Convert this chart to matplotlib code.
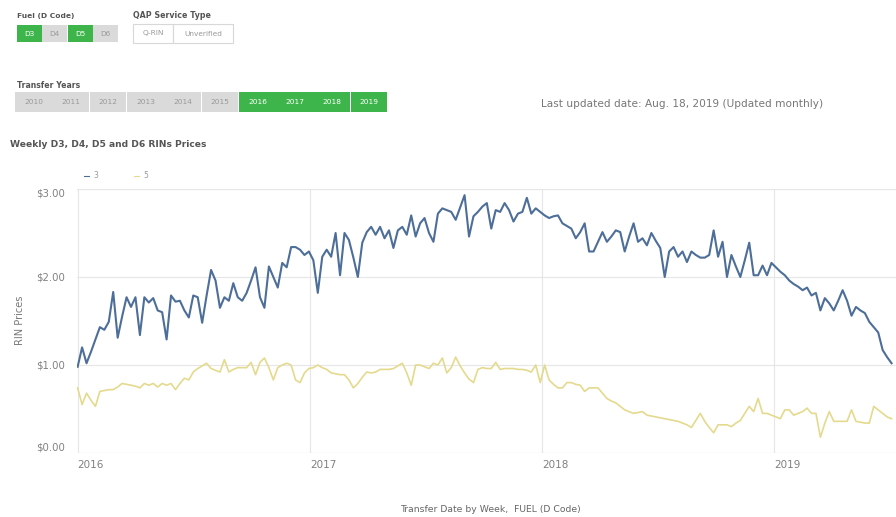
import matplotlib
matplotlib.use("Agg")
import matplotlib.pyplot as plt
import matplotlib.dates as mdates
from matplotlib.patches import Rectangle
import pandas as pd

W, H = 896, 517

# weekly RIN prices
start_date = "2016-01-01"
d3_prices = [
    0.98, 1.20, 1.02, 1.15, 1.29, 1.43, 1.40, 1.49, 1.83, 1.31,
    1.55, 1.77, 1.66, 1.77, 1.34, 1.77, 1.71, 1.76, 1.62, 1.60,
    1.29, 1.79, 1.72, 1.73, 1.62, 1.54, 1.79, 1.77, 1.48, 1.79,
    2.08, 1.96, 1.65, 1.77, 1.73, 1.93, 1.77, 1.73, 1.82, 1.96,
    2.11, 1.77, 1.65, 2.12, 2.00, 1.88, 2.16, 2.11, 2.34, 2.34,
    2.31, 2.25,
    2.29, 2.19, 1.82, 2.23, 2.31, 2.23, 2.50, 2.02, 2.50, 2.42,
    2.22, 2.00, 2.39, 2.51, 2.57, 2.48, 2.57, 2.44, 2.53, 2.33,
    2.53, 2.57, 2.48, 2.70, 2.46, 2.61, 2.67, 2.50, 2.40, 2.72,
    2.78, 2.76, 2.74, 2.65, 2.79, 2.93, 2.46, 2.69, 2.74, 2.80,
    2.84, 2.55, 2.76, 2.74, 2.84, 2.76, 2.63, 2.72, 2.74, 2.90, 2.72, 2.78,
    2.74, 2.70, 2.67, 2.69, 2.70, 2.61, 2.58, 2.55, 2.44, 2.51,
    2.61, 2.29, 2.29, 2.40, 2.51, 2.40, 2.46, 2.53, 2.51, 2.29,
    2.46, 2.61, 2.40, 2.44, 2.36, 2.50, 2.41, 2.33, 2.00, 2.29,
    2.34, 2.23, 2.29, 2.17, 2.29, 2.25, 2.22, 2.22, 2.25, 2.53,
    2.23, 2.40, 2.00, 2.25, 2.12, 2.00, 2.19, 2.39, 2.02, 2.02,
    2.13, 2.02, 2.16,
    2.11, 2.06, 2.02, 1.96, 1.92, 1.89, 1.85, 1.88, 1.79, 1.82,
    1.62, 1.76, 1.70, 1.62, 1.73, 1.85, 1.73, 1.56, 1.66, 1.62,
    1.59, 1.49, 1.43, 1.37, 1.17, 1.09, 1.02,
]
d5_prices = [
    0.74, 0.55, 0.68, 0.60, 0.53, 0.70, 0.71, 0.72, 0.72, 0.75,
    0.79, 0.78, 0.77, 0.76, 0.74, 0.79, 0.77, 0.79, 0.75, 0.79,
    0.77, 0.79, 0.72, 0.79, 0.85, 0.83, 0.92, 0.96, 0.99, 1.02,
    0.96, 0.94, 0.92, 1.06, 0.92, 0.95, 0.97, 0.97, 0.97, 1.03,
    0.89, 1.03, 1.08, 0.97, 0.83, 0.97, 1.00, 1.02, 1.00, 0.83,
    0.80, 0.91, 0.96, 0.97, 1.00, 0.97, 0.95, 0.91, 0.90, 0.89,
    0.89, 0.83, 0.74, 0.79, 0.86, 0.92, 0.91, 0.92, 0.95, 0.95,
    0.95, 0.96, 0.99, 1.02, 0.91, 0.77, 1.00, 1.00, 0.98, 0.96,
    1.02, 1.00, 1.08, 0.91, 0.97, 1.09, 0.99, 0.91, 0.84, 0.80,
    0.95, 0.97, 0.96, 0.96, 1.03, 0.95, 0.96, 0.96, 0.96, 0.95,
    0.95, 0.94, 0.92, 1.00, 0.80, 1.00, 0.83, 0.78, 0.74, 0.74,
    0.80, 0.80, 0.78, 0.77, 0.70, 0.74, 0.74, 0.74, 0.68, 0.62,
    0.59, 0.57, 0.53, 0.49, 0.47, 0.45, 0.46, 0.47, 0.43, 0.42,
    0.41, 0.40, 0.39, 0.38, 0.37, 0.36, 0.34, 0.32, 0.29, 0.37,
    0.45, 0.36, 0.29, 0.23, 0.32, 0.32, 0.32, 0.30, 0.34, 0.37,
    0.45, 0.53, 0.47, 0.62, 0.45, 0.45, 0.43, 0.41, 0.39, 0.49,
    0.49, 0.43, 0.45, 0.47, 0.51, 0.45, 0.45, 0.18, 0.34, 0.47,
    0.36, 0.36, 0.36, 0.36, 0.49, 0.36, 0.35, 0.34, 0.34, 0.53,
    0.49, 0.45, 0.41, 0.39,
]
weeks = pd.date_range(start_date, periods=len(d3_prices), freq="7D")

fuel_codes = ["D3", "D4", "D5", "D6"]
fuel_selected = ["D3", "D5"]
qap_types = ["Q-RIN", "Unverified"]
years = ["2010", "2011", "2012", "2013", "2014", "2015", "2016", "2017", "2018", "2019"]
years_selected = ["2016", "2017", "2018", "2019"]
y_ticks = [0, 1, 2, 3]
y_labels = ["$0.00", "$1.00", "$2.00", "$3.00"]
x_ticks = ["2016-01-01", "2017-01-01", "2018-01-01", "2019-01-01"]

GREEN = "#3db54a"
GREY_BTN = "#dadada"
BLUE = "#4d6e99"
YELLOW = "#e4da8e"

fig = plt.figure(figsize=(W / 100, H / 100), dpi=100)
fig.patch.set_facecolor("white")


def box(x, y, w, h, fc, ec="none"):
    fig.add_artist(Rectangle((x / W, 1 - (y + h) / H), w / W, h / H,
                             transform=fig.transFigure, facecolor=fc,
                             edgecolor=ec, linewidth=0.8))


def txt(x, y, s, **kw):
    fig.text(x / W, 1 - y / H, s, **kw)


# filter panels
txt(17, 16, "Fuel (D Code)", fontsize=5.4, fontweight="bold", color="#555555", va="center")
for i, code in enumerate(fuel_codes):
    x0 = 17 + i * 25.3
    on = code in fuel_selected
    box(x0, 25, 25, 17, GREEN if on else GREY_BTN)
    txt(x0 + 12.5, 33.5, code, fontsize=5.3, color="white" if on else "#999999",
        ha="center", va="center")

txt(133, 16, "QAP Service Type", fontsize=5.7, fontweight="bold", color="#555555", va="center")
box(133, 24, 40, 19, "white", "#d8d8d8")
box(173, 24, 60, 19, "white", "#d8d8d8")
txt(153, 33.5, qap_types[0], fontsize=5.3, color="#999999", ha="center", va="center")
txt(203, 33.5, qap_types[1], fontsize=5.3, color="#999999", ha="center", va="center")

txt(17, 85, "Transfer Years", fontsize=5.6, fontweight="bold", color="#555555", va="center")
bw = (388 - 15) / len(years)
for i, yr in enumerate(years):
    x0 = 15 + i * bw
    on = yr in years_selected
    box(x0, 92, bw - 0.6, 20, GREEN if on else GREY_BTN)
    txt(x0 + bw / 2, 102, yr, fontsize=5.3, color="white" if on else "#999999",
        ha="center", va="center")

txt(541, 104, "Last updated date: Aug. 18, 2019 (Updated monthly)", fontsize=7.6,
    color="#777777", va="center")

txt(10, 145, "Weekly D3, D4, D5 and D6 RINs Prices", fontsize=6.6, fontweight="bold",
    color="#555555", va="center")

# legend
fig.add_artist(plt.Line2D([84 / W, 89 / W], [1 - 176 / H] * 2, color=BLUE, lw=0.8,
                          transform=fig.transFigure))
txt(93, 176, "3", fontsize=5.5, color="#999999", va="center")
fig.add_artist(plt.Line2D([134 / W, 139 / W], [1 - 176 / H] * 2, color=YELLOW, lw=0.8,
                          transform=fig.transFigure))
txt(143, 176, "5", fontsize=5.5, color="#999999", va="center")

# chart
ax = fig.add_axes([77 / W, 1 - 453 / H, (W - 77) / W, (453 - 189) / H])
ax.plot(weeks, d5_prices, color=YELLOW, lw=1.2)
ax.plot(weeks, d3_prices, color=BLUE, lw=1.5)

ax.set_ylim(0, 3)
ax.set_xlim(pd.Timestamp("2015-12-31"), pd.Timestamp("2019-07-12"))
ax.set_yticks(y_ticks)
ax.set_yticklabels(y_labels)
ax.set_xticks(pd.to_datetime(x_ticks))
ax.xaxis.set_major_formatter(mdates.DateFormatter("%Y"))
ax.grid(True, color="#e6e6e6", lw=0.8)
ax.set_axisbelow(True)
for side in ["top", "right", "bottom", "left"]:
    ax.spines[side].set_visible(False)
ax.axhline(0, color="#e0e0e0", lw=0.8, zorder=0)
ax.axhline(3, color="#eeeeee", lw=0.8, zorder=0)
ax.tick_params(length=0, labelsize=7.3, labelcolor="#808080", pad=9)
ax.tick_params(axis="x", pad=5, labelsize=7.5)
for lab in ax.get_xticklabels():
    lab.set_ha("left")
labs = ax.get_yticklabels()
labs[0].set_va("bottom")
labs[-1].set_va("top")

txt(20, 320, "RIN Prices", fontsize=7, color="#777777", rotation=90,
    ha="center", va="center")
txt(490, 510, "Transfer Date by Week,  FUEL (D Code)", fontsize=6.7, color="#666666",
    ha="center", va="center")

fig.savefig("out.png", dpi=100)
